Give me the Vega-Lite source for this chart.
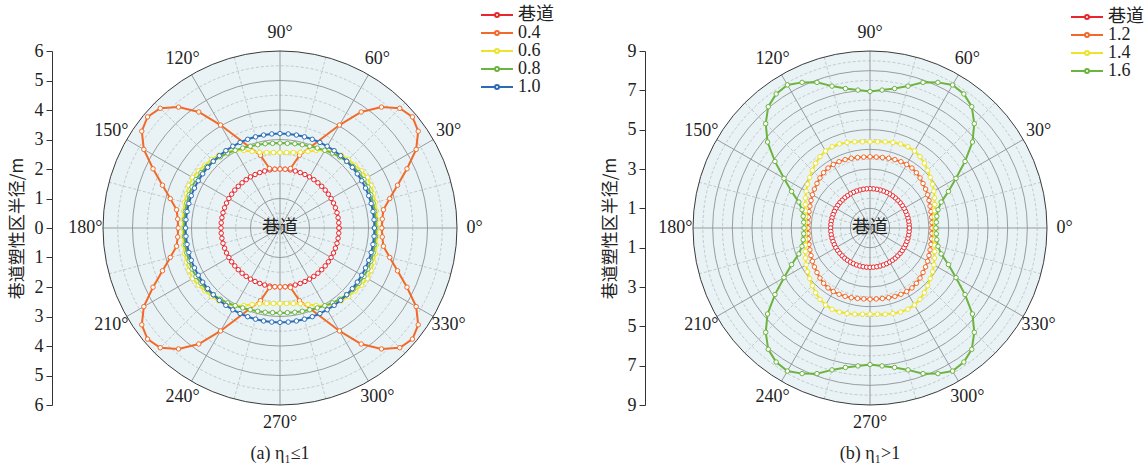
{
"$schema":"https://vega.github.io/schema/vega-lite/v6.json",
"padding":{"left":8,"top":6,"right":0,"bottom":0},
"config":{"font":"Liberation Serif, Noto Sans CJK SC","view":{"stroke":null},"title":{"fontWeight":"normal","fontSize":18},"axis":{"labelOverlap":false,"labelFontSize":18,"labelFont":"Liberation Serif","labelColor":"#222","grid":false,"tickCount":20}},
"spacing":47,
"resolve":{"scale":{"color":"independent","x":"independent","y":"independent","size":"independent"},"legend":{"color":"independent"}},
"datasets":{
"a":[
{"s":"巷道","t":0,"r":2},{"s":"巷道","t":5,"r":2},{"s":"巷道","t":10,"r":2},{"s":"巷道","t":15,"r":2},{"s":"巷道","t":20,"r":2},{"s":"巷道","t":25,"r":2},{"s":"巷道","t":30,"r":2},{"s":"巷道","t":35,"r":2},{"s":"巷道","t":40,"r":2},{"s":"巷道","t":45,"r":2},{"s":"巷道","t":50,"r":2},{"s":"巷道","t":55,"r":2},{"s":"巷道","t":60,"r":2},{"s":"巷道","t":65,"r":2},{"s":"巷道","t":70,"r":2},{"s":"巷道","t":75,"r":2},{"s":"巷道","t":80,"r":2},{"s":"巷道","t":85,"r":2},{"s":"巷道","t":90,"r":2},{"s":"巷道","t":95,"r":2},{"s":"巷道","t":100,"r":2},{"s":"巷道","t":105,"r":2},{"s":"巷道","t":110,"r":2},{"s":"巷道","t":115,"r":2},{"s":"巷道","t":120,"r":2},{"s":"巷道","t":125,"r":2},{"s":"巷道","t":130,"r":2},{"s":"巷道","t":135,"r":2},{"s":"巷道","t":140,"r":2},{"s":"巷道","t":145,"r":2},{"s":"巷道","t":150,"r":2},{"s":"巷道","t":155,"r":2},{"s":"巷道","t":160,"r":2},{"s":"巷道","t":165,"r":2},{"s":"巷道","t":170,"r":2},{"s":"巷道","t":175,"r":2},{"s":"巷道","t":180,"r":2},{"s":"巷道","t":185,"r":2},{"s":"巷道","t":190,"r":2},{"s":"巷道","t":195,"r":2},{"s":"巷道","t":200,"r":2},{"s":"巷道","t":205,"r":2},{"s":"巷道","t":210,"r":2},{"s":"巷道","t":215,"r":2},{"s":"巷道","t":220,"r":2},{"s":"巷道","t":225,"r":2},{"s":"巷道","t":230,"r":2},{"s":"巷道","t":235,"r":2},{"s":"巷道","t":240,"r":2},{"s":"巷道","t":245,"r":2},{"s":"巷道","t":250,"r":2},{"s":"巷道","t":255,"r":2},{"s":"巷道","t":260,"r":2},{"s":"巷道","t":265,"r":2},{"s":"巷道","t":270,"r":2},{"s":"巷道","t":275,"r":2},{"s":"巷道","t":280,"r":2},{"s":"巷道","t":285,"r":2},{"s":"巷道","t":290,"r":2},{"s":"巷道","t":295,"r":2},{"s":"巷道","t":300,"r":2},{"s":"巷道","t":305,"r":2},{"s":"巷道","t":310,"r":2},{"s":"巷道","t":315,"r":2},{"s":"巷道","t":320,"r":2},{"s":"巷道","t":325,"r":2},{"s":"巷道","t":330,"r":2},{"s":"巷道","t":335,"r":2},{"s":"巷道","t":340,"r":2},{"s":"巷道","t":345,"r":2},{"s":"巷道","t":350,"r":2},{"s":"巷道","t":355,"r":2},{"s":"巷道","t":360,"r":2},
{"s":"0.4","t":0,"r":3.45},{"s":"0.4","t":5,"r":3.48},{"s":"0.4","t":10,"r":3.56},{"s":"0.4","t":15,"r":3.85},{"s":"0.4","t":20,"r":4.24},{"s":"0.4","t":25,"r":4.75},{"s":"0.4","t":30,"r":5.33},{"s":"0.4","t":35,"r":5.72},{"s":"0.4","t":40,"r":5.86},{"s":"0.4","t":45,"r":5.74},{"s":"0.4","t":50,"r":5.35},{"s":"0.4","t":55,"r":4.8},{"s":"0.4","t":60,"r":4.03},{"s":"0.4","t":75,"r":2.55},{"s":"0.4","t":80,"r":2.05},{"s":"0.4","t":85,"r":2},{"s":"0.4","t":90,"r":2},
{"s":"0.4","t":95,"r":2},{"s":"0.4","t":100,"r":2.05},{"s":"0.4","t":105,"r":2.55},{"s":"0.4","t":120,"r":4.03},{"s":"0.4","t":125,"r":4.8},{"s":"0.4","t":130,"r":5.35},{"s":"0.4","t":135,"r":5.74},{"s":"0.4","t":140,"r":5.86},{"s":"0.4","t":145,"r":5.72},{"s":"0.4","t":150,"r":5.33},{"s":"0.4","t":155,"r":4.75},{"s":"0.4","t":160,"r":4.24},{"s":"0.4","t":165,"r":3.85},{"s":"0.4","t":170,"r":3.56},{"s":"0.4","t":175,"r":3.48},{"s":"0.4","t":180,"r":3.45},
{"s":"0.4","t":185,"r":3.48},{"s":"0.4","t":190,"r":3.56},{"s":"0.4","t":195,"r":3.85},{"s":"0.4","t":200,"r":4.24},{"s":"0.4","t":205,"r":4.75},{"s":"0.4","t":210,"r":5.33},{"s":"0.4","t":215,"r":5.72},{"s":"0.4","t":220,"r":5.86},{"s":"0.4","t":225,"r":5.74},{"s":"0.4","t":230,"r":5.35},{"s":"0.4","t":235,"r":4.8},{"s":"0.4","t":240,"r":4.03},{"s":"0.4","t":255,"r":2.55},{"s":"0.4","t":260,"r":2.05},{"s":"0.4","t":265,"r":2},{"s":"0.4","t":270,"r":2},
{"s":"0.4","t":275,"r":2},{"s":"0.4","t":280,"r":2.05},{"s":"0.4","t":285,"r":2.55},{"s":"0.4","t":300,"r":4.03},{"s":"0.4","t":305,"r":4.8},{"s":"0.4","t":310,"r":5.35},{"s":"0.4","t":315,"r":5.74},{"s":"0.4","t":320,"r":5.86},{"s":"0.4","t":325,"r":5.72},{"s":"0.4","t":330,"r":5.33},{"s":"0.4","t":335,"r":4.75},{"s":"0.4","t":340,"r":4.24},{"s":"0.4","t":345,"r":3.85},{"s":"0.4","t":350,"r":3.56},{"s":"0.4","t":355,"r":3.48},{"s":"0.4","t":360,"r":3.45},
{"s":"0.6","t":0,"r":3.3},{"s":"0.6","t":5,"r":3.3},{"s":"0.6","t":10,"r":3.32},{"s":"0.6","t":15,"r":3.35},{"s":"0.6","t":20,"r":3.38},{"s":"0.6","t":25,"r":3.41},{"s":"0.6","t":30,"r":3.42},{"s":"0.6","t":35,"r":3.38},{"s":"0.6","t":40,"r":3.32},{"s":"0.6","t":45,"r":3.28},{"s":"0.6","t":50,"r":3.23},{"s":"0.6","t":55,"r":3.16},{"s":"0.6","t":60,"r":3.05},{"s":"0.6","t":65,"r":2.9},{"s":"0.6","t":70,"r":2.76},{"s":"0.6","t":75,"r":2.66},{"s":"0.6","t":80,"r":2.6},{"s":"0.6","t":85,"r":2.57},{"s":"0.6","t":90,"r":2.56},
{"s":"0.6","t":95,"r":2.57},{"s":"0.6","t":100,"r":2.6},{"s":"0.6","t":105,"r":2.66},{"s":"0.6","t":110,"r":2.76},{"s":"0.6","t":115,"r":2.9},{"s":"0.6","t":120,"r":3.05},{"s":"0.6","t":125,"r":3.16},{"s":"0.6","t":130,"r":3.23},{"s":"0.6","t":135,"r":3.28},{"s":"0.6","t":140,"r":3.32},{"s":"0.6","t":145,"r":3.38},{"s":"0.6","t":150,"r":3.42},{"s":"0.6","t":155,"r":3.41},{"s":"0.6","t":160,"r":3.38},{"s":"0.6","t":165,"r":3.35},{"s":"0.6","t":170,"r":3.32},{"s":"0.6","t":175,"r":3.3},{"s":"0.6","t":180,"r":3.3},
{"s":"0.6","t":185,"r":3.3},{"s":"0.6","t":190,"r":3.32},{"s":"0.6","t":195,"r":3.35},{"s":"0.6","t":200,"r":3.38},{"s":"0.6","t":205,"r":3.41},{"s":"0.6","t":210,"r":3.42},{"s":"0.6","t":215,"r":3.38},{"s":"0.6","t":220,"r":3.32},{"s":"0.6","t":225,"r":3.28},{"s":"0.6","t":230,"r":3.23},{"s":"0.6","t":235,"r":3.16},{"s":"0.6","t":240,"r":3.05},{"s":"0.6","t":245,"r":2.9},{"s":"0.6","t":250,"r":2.76},{"s":"0.6","t":255,"r":2.66},{"s":"0.6","t":260,"r":2.6},{"s":"0.6","t":265,"r":2.57},{"s":"0.6","t":270,"r":2.56},
{"s":"0.6","t":275,"r":2.57},{"s":"0.6","t":280,"r":2.6},{"s":"0.6","t":285,"r":2.66},{"s":"0.6","t":290,"r":2.76},{"s":"0.6","t":295,"r":2.9},{"s":"0.6","t":300,"r":3.05},{"s":"0.6","t":305,"r":3.16},{"s":"0.6","t":310,"r":3.23},{"s":"0.6","t":315,"r":3.28},{"s":"0.6","t":320,"r":3.32},{"s":"0.6","t":325,"r":3.38},{"s":"0.6","t":330,"r":3.42},{"s":"0.6","t":335,"r":3.41},{"s":"0.6","t":340,"r":3.38},{"s":"0.6","t":345,"r":3.35},{"s":"0.6","t":350,"r":3.32},{"s":"0.6","t":355,"r":3.3},{"s":"0.6","t":360,"r":3.3},
{"s":"0.8","t":0,"r":3.25},{"s":"0.8","t":5,"r":3.25},{"s":"0.8","t":10,"r":3.26},{"s":"0.8","t":15,"r":3.27},{"s":"0.8","t":20,"r":3.28},{"s":"0.8","t":25,"r":3.29},{"s":"0.8","t":30,"r":3.29},{"s":"0.8","t":35,"r":3.27},{"s":"0.8","t":40,"r":3.24},{"s":"0.8","t":45,"r":3.2},{"s":"0.8","t":50,"r":3.15},{"s":"0.8","t":55,"r":3.1},{"s":"0.8","t":60,"r":3.04},{"s":"0.8","t":65,"r":2.99},{"s":"0.8","t":70,"r":2.95},{"s":"0.8","t":75,"r":2.92},{"s":"0.8","t":80,"r":2.9},{"s":"0.8","t":85,"r":2.88},{"s":"0.8","t":90,"r":2.88},
{"s":"0.8","t":95,"r":2.88},{"s":"0.8","t":100,"r":2.9},{"s":"0.8","t":105,"r":2.92},{"s":"0.8","t":110,"r":2.95},{"s":"0.8","t":115,"r":2.99},{"s":"0.8","t":120,"r":3.04},{"s":"0.8","t":125,"r":3.1},{"s":"0.8","t":130,"r":3.15},{"s":"0.8","t":135,"r":3.2},{"s":"0.8","t":140,"r":3.24},{"s":"0.8","t":145,"r":3.27},{"s":"0.8","t":150,"r":3.29},{"s":"0.8","t":155,"r":3.29},{"s":"0.8","t":160,"r":3.28},{"s":"0.8","t":165,"r":3.27},{"s":"0.8","t":170,"r":3.26},{"s":"0.8","t":175,"r":3.25},{"s":"0.8","t":180,"r":3.25},
{"s":"0.8","t":185,"r":3.25},{"s":"0.8","t":190,"r":3.26},{"s":"0.8","t":195,"r":3.27},{"s":"0.8","t":200,"r":3.28},{"s":"0.8","t":205,"r":3.29},{"s":"0.8","t":210,"r":3.29},{"s":"0.8","t":215,"r":3.27},{"s":"0.8","t":220,"r":3.24},{"s":"0.8","t":225,"r":3.2},{"s":"0.8","t":230,"r":3.15},{"s":"0.8","t":235,"r":3.1},{"s":"0.8","t":240,"r":3.04},{"s":"0.8","t":245,"r":2.99},{"s":"0.8","t":250,"r":2.95},{"s":"0.8","t":255,"r":2.92},{"s":"0.8","t":260,"r":2.9},{"s":"0.8","t":265,"r":2.88},{"s":"0.8","t":270,"r":2.88},
{"s":"0.8","t":275,"r":2.88},{"s":"0.8","t":280,"r":2.9},{"s":"0.8","t":285,"r":2.92},{"s":"0.8","t":290,"r":2.95},{"s":"0.8","t":295,"r":2.99},{"s":"0.8","t":300,"r":3.04},{"s":"0.8","t":305,"r":3.1},{"s":"0.8","t":310,"r":3.15},{"s":"0.8","t":315,"r":3.2},{"s":"0.8","t":320,"r":3.24},{"s":"0.8","t":325,"r":3.27},{"s":"0.8","t":330,"r":3.29},{"s":"0.8","t":335,"r":3.29},{"s":"0.8","t":340,"r":3.28},{"s":"0.8","t":345,"r":3.27},{"s":"0.8","t":350,"r":3.26},{"s":"0.8","t":355,"r":3.25},{"s":"0.8","t":360,"r":3.25},
{"s":"1.0","t":0,"r":3.2},{"s":"1.0","t":5,"r":3.2},{"s":"1.0","t":10,"r":3.2},{"s":"1.0","t":15,"r":3.2},{"s":"1.0","t":20,"r":3.2},{"s":"1.0","t":25,"r":3.2},{"s":"1.0","t":30,"r":3.2},{"s":"1.0","t":35,"r":3.2},{"s":"1.0","t":40,"r":3.2},{"s":"1.0","t":45,"r":3.2},{"s":"1.0","t":50,"r":3.2},{"s":"1.0","t":55,"r":3.2},{"s":"1.0","t":60,"r":3.2},{"s":"1.0","t":65,"r":3.2},{"s":"1.0","t":70,"r":3.2},{"s":"1.0","t":75,"r":3.2},{"s":"1.0","t":80,"r":3.2},{"s":"1.0","t":85,"r":3.2},{"s":"1.0","t":90,"r":3.2},{"s":"1.0","t":95,"r":3.2},{"s":"1.0","t":100,"r":3.2},{"s":"1.0","t":105,"r":3.2},{"s":"1.0","t":110,"r":3.2},{"s":"1.0","t":115,"r":3.2},{"s":"1.0","t":120,"r":3.2},{"s":"1.0","t":125,"r":3.2},{"s":"1.0","t":130,"r":3.2},{"s":"1.0","t":135,"r":3.2},{"s":"1.0","t":140,"r":3.2},{"s":"1.0","t":145,"r":3.2},{"s":"1.0","t":150,"r":3.2},{"s":"1.0","t":155,"r":3.2},{"s":"1.0","t":160,"r":3.2},{"s":"1.0","t":165,"r":3.2},{"s":"1.0","t":170,"r":3.2},{"s":"1.0","t":175,"r":3.2},{"s":"1.0","t":180,"r":3.2},{"s":"1.0","t":185,"r":3.2},{"s":"1.0","t":190,"r":3.2},{"s":"1.0","t":195,"r":3.2},{"s":"1.0","t":200,"r":3.2},{"s":"1.0","t":205,"r":3.2},{"s":"1.0","t":210,"r":3.2},{"s":"1.0","t":215,"r":3.2},{"s":"1.0","t":220,"r":3.2},{"s":"1.0","t":225,"r":3.2},{"s":"1.0","t":230,"r":3.2},{"s":"1.0","t":235,"r":3.2},{"s":"1.0","t":240,"r":3.2},{"s":"1.0","t":245,"r":3.2},{"s":"1.0","t":250,"r":3.2},{"s":"1.0","t":255,"r":3.2},{"s":"1.0","t":260,"r":3.2},{"s":"1.0","t":265,"r":3.2},{"s":"1.0","t":270,"r":3.2},{"s":"1.0","t":275,"r":3.2},{"s":"1.0","t":280,"r":3.2},{"s":"1.0","t":285,"r":3.2},{"s":"1.0","t":290,"r":3.2},{"s":"1.0","t":295,"r":3.2},{"s":"1.0","t":300,"r":3.2},{"s":"1.0","t":305,"r":3.2},{"s":"1.0","t":310,"r":3.2},{"s":"1.0","t":315,"r":3.2},{"s":"1.0","t":320,"r":3.2},{"s":"1.0","t":325,"r":3.2},{"s":"1.0","t":330,"r":3.2},{"s":"1.0","t":335,"r":3.2},{"s":"1.0","t":340,"r":3.2},{"s":"1.0","t":345,"r":3.2},{"s":"1.0","t":350,"r":3.2},{"s":"1.0","t":355,"r":3.2},{"s":"1.0","t":360,"r":3.2}
],
"b":[
{"s":"巷道","t":0,"r":2},{"s":"巷道","t":5,"r":2},{"s":"巷道","t":10,"r":2},{"s":"巷道","t":15,"r":2},{"s":"巷道","t":20,"r":2},{"s":"巷道","t":25,"r":2},{"s":"巷道","t":30,"r":2},{"s":"巷道","t":35,"r":2},{"s":"巷道","t":40,"r":2},{"s":"巷道","t":45,"r":2},{"s":"巷道","t":50,"r":2},{"s":"巷道","t":55,"r":2},{"s":"巷道","t":60,"r":2},{"s":"巷道","t":65,"r":2},{"s":"巷道","t":70,"r":2},{"s":"巷道","t":75,"r":2},{"s":"巷道","t":80,"r":2},{"s":"巷道","t":85,"r":2},{"s":"巷道","t":90,"r":2},{"s":"巷道","t":95,"r":2},{"s":"巷道","t":100,"r":2},{"s":"巷道","t":105,"r":2},{"s":"巷道","t":110,"r":2},{"s":"巷道","t":115,"r":2},{"s":"巷道","t":120,"r":2},{"s":"巷道","t":125,"r":2},{"s":"巷道","t":130,"r":2},{"s":"巷道","t":135,"r":2},{"s":"巷道","t":140,"r":2},{"s":"巷道","t":145,"r":2},{"s":"巷道","t":150,"r":2},{"s":"巷道","t":155,"r":2},{"s":"巷道","t":160,"r":2},{"s":"巷道","t":165,"r":2},{"s":"巷道","t":170,"r":2},{"s":"巷道","t":175,"r":2},{"s":"巷道","t":180,"r":2},{"s":"巷道","t":185,"r":2},{"s":"巷道","t":190,"r":2},{"s":"巷道","t":195,"r":2},{"s":"巷道","t":200,"r":2},{"s":"巷道","t":205,"r":2},{"s":"巷道","t":210,"r":2},{"s":"巷道","t":215,"r":2},{"s":"巷道","t":220,"r":2},{"s":"巷道","t":225,"r":2},{"s":"巷道","t":230,"r":2},{"s":"巷道","t":235,"r":2},{"s":"巷道","t":240,"r":2},{"s":"巷道","t":245,"r":2},{"s":"巷道","t":250,"r":2},{"s":"巷道","t":255,"r":2},{"s":"巷道","t":260,"r":2},{"s":"巷道","t":265,"r":2},{"s":"巷道","t":270,"r":2},{"s":"巷道","t":275,"r":2},{"s":"巷道","t":280,"r":2},{"s":"巷道","t":285,"r":2},{"s":"巷道","t":290,"r":2},{"s":"巷道","t":295,"r":2},{"s":"巷道","t":300,"r":2},{"s":"巷道","t":305,"r":2},{"s":"巷道","t":310,"r":2},{"s":"巷道","t":315,"r":2},{"s":"巷道","t":320,"r":2},{"s":"巷道","t":325,"r":2},{"s":"巷道","t":330,"r":2},{"s":"巷道","t":335,"r":2},{"s":"巷道","t":340,"r":2},{"s":"巷道","t":345,"r":2},{"s":"巷道","t":350,"r":2},{"s":"巷道","t":355,"r":2},{"s":"巷道","t":360,"r":2},
{"s":"1.2","t":0,"r":3.15},{"s":"1.2","t":5,"r":3.16},{"s":"1.2","t":10,"r":3.18},{"s":"1.2","t":15,"r":3.21},{"s":"1.2","t":20,"r":3.25},{"s":"1.2","t":25,"r":3.31},{"s":"1.2","t":30,"r":3.38},{"s":"1.2","t":35,"r":3.45},{"s":"1.2","t":40,"r":3.52},{"s":"1.2","t":45,"r":3.6},{"s":"1.2","t":50,"r":3.67},{"s":"1.2","t":55,"r":3.72},{"s":"1.2","t":60,"r":3.73},{"s":"1.2","t":65,"r":3.72},{"s":"1.2","t":70,"r":3.7},{"s":"1.2","t":75,"r":3.67},{"s":"1.2","t":80,"r":3.64},{"s":"1.2","t":85,"r":3.62},{"s":"1.2","t":90,"r":3.62},
{"s":"1.2","t":95,"r":3.62},{"s":"1.2","t":100,"r":3.64},{"s":"1.2","t":105,"r":3.67},{"s":"1.2","t":110,"r":3.7},{"s":"1.2","t":115,"r":3.72},{"s":"1.2","t":120,"r":3.73},{"s":"1.2","t":125,"r":3.72},{"s":"1.2","t":130,"r":3.67},{"s":"1.2","t":135,"r":3.6},{"s":"1.2","t":140,"r":3.52},{"s":"1.2","t":145,"r":3.45},{"s":"1.2","t":150,"r":3.38},{"s":"1.2","t":155,"r":3.31},{"s":"1.2","t":160,"r":3.25},{"s":"1.2","t":165,"r":3.21},{"s":"1.2","t":170,"r":3.18},{"s":"1.2","t":175,"r":3.16},{"s":"1.2","t":180,"r":3.15},
{"s":"1.2","t":185,"r":3.16},{"s":"1.2","t":190,"r":3.18},{"s":"1.2","t":195,"r":3.21},{"s":"1.2","t":200,"r":3.25},{"s":"1.2","t":205,"r":3.31},{"s":"1.2","t":210,"r":3.38},{"s":"1.2","t":215,"r":3.45},{"s":"1.2","t":220,"r":3.52},{"s":"1.2","t":225,"r":3.6},{"s":"1.2","t":230,"r":3.67},{"s":"1.2","t":235,"r":3.72},{"s":"1.2","t":240,"r":3.73},{"s":"1.2","t":245,"r":3.72},{"s":"1.2","t":250,"r":3.7},{"s":"1.2","t":255,"r":3.67},{"s":"1.2","t":260,"r":3.64},{"s":"1.2","t":265,"r":3.62},{"s":"1.2","t":270,"r":3.62},
{"s":"1.2","t":275,"r":3.62},{"s":"1.2","t":280,"r":3.64},{"s":"1.2","t":285,"r":3.67},{"s":"1.2","t":290,"r":3.7},{"s":"1.2","t":295,"r":3.72},{"s":"1.2","t":300,"r":3.73},{"s":"1.2","t":305,"r":3.72},{"s":"1.2","t":310,"r":3.67},{"s":"1.2","t":315,"r":3.6},{"s":"1.2","t":320,"r":3.52},{"s":"1.2","t":325,"r":3.45},{"s":"1.2","t":330,"r":3.38},{"s":"1.2","t":335,"r":3.31},{"s":"1.2","t":340,"r":3.25},{"s":"1.2","t":345,"r":3.21},{"s":"1.2","t":350,"r":3.18},{"s":"1.2","t":355,"r":3.16},{"s":"1.2","t":360,"r":3.15},
{"s":"1.4","t":0,"r":3.28},{"s":"1.4","t":5,"r":3.29},{"s":"1.4","t":10,"r":3.33},{"s":"1.4","t":15,"r":3.4},{"s":"1.4","t":20,"r":3.5},{"s":"1.4","t":25,"r":3.62},{"s":"1.4","t":30,"r":3.75},{"s":"1.4","t":35,"r":3.88},{"s":"1.4","t":40,"r":4.0},{"s":"1.4","t":45,"r":4.15},{"s":"1.4","t":50,"r":4.3},{"s":"1.4","t":55,"r":4.43},{"s":"1.4","t":60,"r":4.52},{"s":"1.4","t":65,"r":4.56},{"s":"1.4","t":70,"r":4.55},{"s":"1.4","t":75,"r":4.5},{"s":"1.4","t":80,"r":4.45},{"s":"1.4","t":85,"r":4.4},{"s":"1.4","t":90,"r":4.38},
{"s":"1.4","t":95,"r":4.4},{"s":"1.4","t":100,"r":4.45},{"s":"1.4","t":105,"r":4.5},{"s":"1.4","t":110,"r":4.55},{"s":"1.4","t":115,"r":4.56},{"s":"1.4","t":120,"r":4.52},{"s":"1.4","t":125,"r":4.43},{"s":"1.4","t":130,"r":4.3},{"s":"1.4","t":135,"r":4.15},{"s":"1.4","t":140,"r":4.0},{"s":"1.4","t":145,"r":3.88},{"s":"1.4","t":150,"r":3.75},{"s":"1.4","t":155,"r":3.62},{"s":"1.4","t":160,"r":3.5},{"s":"1.4","t":165,"r":3.4},{"s":"1.4","t":170,"r":3.33},{"s":"1.4","t":175,"r":3.29},{"s":"1.4","t":180,"r":3.28},
{"s":"1.4","t":185,"r":3.29},{"s":"1.4","t":190,"r":3.33},{"s":"1.4","t":195,"r":3.4},{"s":"1.4","t":200,"r":3.5},{"s":"1.4","t":205,"r":3.62},{"s":"1.4","t":210,"r":3.75},{"s":"1.4","t":215,"r":3.88},{"s":"1.4","t":220,"r":4.0},{"s":"1.4","t":225,"r":4.15},{"s":"1.4","t":230,"r":4.3},{"s":"1.4","t":235,"r":4.43},{"s":"1.4","t":240,"r":4.52},{"s":"1.4","t":245,"r":4.56},{"s":"1.4","t":250,"r":4.55},{"s":"1.4","t":255,"r":4.5},{"s":"1.4","t":260,"r":4.45},{"s":"1.4","t":265,"r":4.4},{"s":"1.4","t":270,"r":4.38},
{"s":"1.4","t":275,"r":4.4},{"s":"1.4","t":280,"r":4.45},{"s":"1.4","t":285,"r":4.5},{"s":"1.4","t":290,"r":4.55},{"s":"1.4","t":295,"r":4.56},{"s":"1.4","t":300,"r":4.52},{"s":"1.4","t":305,"r":4.43},{"s":"1.4","t":310,"r":4.3},{"s":"1.4","t":315,"r":4.15},{"s":"1.4","t":320,"r":4.0},{"s":"1.4","t":325,"r":3.88},{"s":"1.4","t":330,"r":3.75},{"s":"1.4","t":335,"r":3.62},{"s":"1.4","t":340,"r":3.5},{"s":"1.4","t":345,"r":3.4},{"s":"1.4","t":350,"r":3.33},{"s":"1.4","t":355,"r":3.29},{"s":"1.4","t":360,"r":3.28},
{"s":"1.6","t":0,"r":3.35},{"s":"1.6","t":5,"r":3.38},{"s":"1.6","t":10,"r":3.45},{"s":"1.6","t":15,"r":3.58},{"s":"1.6","t":20,"r":3.85},{"s":"1.6","t":25,"r":4.4},{"s":"1.6","t":30,"r":5.05},{"s":"1.6","t":35,"r":5.9},{"s":"1.6","t":40,"r":6.8},{"s":"1.6","t":45,"r":7.5},{"s":"1.6","t":50,"r":8.05},{"s":"1.6","t":55,"r":8.32},{"s":"1.6","t":60,"r":8.4},{"s":"1.6","t":65,"r":8.17},{"s":"1.6","t":70,"r":7.88},{"s":"1.6","t":75,"r":7.47},{"s":"1.6","t":80,"r":7.2},{"s":"1.6","t":85,"r":7.04},{"s":"1.6","t":90,"r":6.94},
{"s":"1.6","t":95,"r":7.04},{"s":"1.6","t":100,"r":7.2},{"s":"1.6","t":105,"r":7.47},{"s":"1.6","t":110,"r":7.88},{"s":"1.6","t":115,"r":8.17},{"s":"1.6","t":120,"r":8.4},{"s":"1.6","t":125,"r":8.32},{"s":"1.6","t":130,"r":8.05},{"s":"1.6","t":135,"r":7.5},{"s":"1.6","t":140,"r":6.8},{"s":"1.6","t":145,"r":5.9},{"s":"1.6","t":150,"r":5.05},{"s":"1.6","t":155,"r":4.4},{"s":"1.6","t":160,"r":3.85},{"s":"1.6","t":165,"r":3.58},{"s":"1.6","t":170,"r":3.45},{"s":"1.6","t":175,"r":3.38},{"s":"1.6","t":180,"r":3.35},
{"s":"1.6","t":185,"r":3.38},{"s":"1.6","t":190,"r":3.45},{"s":"1.6","t":195,"r":3.58},{"s":"1.6","t":200,"r":3.85},{"s":"1.6","t":205,"r":4.4},{"s":"1.6","t":210,"r":5.05},{"s":"1.6","t":215,"r":5.9},{"s":"1.6","t":220,"r":6.8},{"s":"1.6","t":225,"r":7.5},{"s":"1.6","t":230,"r":8.05},{"s":"1.6","t":235,"r":8.32},{"s":"1.6","t":240,"r":8.4},{"s":"1.6","t":245,"r":8.17},{"s":"1.6","t":250,"r":7.88},{"s":"1.6","t":255,"r":7.47},{"s":"1.6","t":260,"r":7.2},{"s":"1.6","t":265,"r":7.04},{"s":"1.6","t":270,"r":6.94},
{"s":"1.6","t":275,"r":7.04},{"s":"1.6","t":280,"r":7.2},{"s":"1.6","t":285,"r":7.47},{"s":"1.6","t":290,"r":7.88},{"s":"1.6","t":295,"r":8.17},{"s":"1.6","t":300,"r":8.4},{"s":"1.6","t":305,"r":8.32},{"s":"1.6","t":310,"r":8.05},{"s":"1.6","t":315,"r":7.5},{"s":"1.6","t":320,"r":6.8},{"s":"1.6","t":325,"r":5.9},{"s":"1.6","t":330,"r":5.05},{"s":"1.6","t":335,"r":4.4},{"s":"1.6","t":340,"r":3.85},{"s":"1.6","t":345,"r":3.58},{"s":"1.6","t":350,"r":3.45},{"s":"1.6","t":355,"r":3.38},{"s":"1.6","t":360,"r":3.35}
],
"spokeMain":[{"a":0},{"a":30},{"a":60},{"a":90},{"a":120},{"a":150},{"a":180},{"a":210},{"a":240},{"a":270},{"a":300},{"a":330}],
"spokeMinor":[{"a":15},{"a":45},{"a":75},{"a":105},{"a":135},{"a":165},{"a":195},{"a":225},{"a":255},{"a":285},{"a":315},{"a":345}],
"angLab":[{"a":0,"lab":"0°"},{"a":30,"lab":"30°"},{"a":60,"lab":"60°"},{"a":90,"lab":"90°"},{"a":120,"lab":"120°"},{"a":150,"lab":"150°"},{"a":180,"lab":"180°"},{"a":210,"lab":"210°"},{"a":240,"lab":"240°"},{"a":270,"lab":"270°"},{"a":300,"lab":"300°"},{"a":330,"lab":"330°"}],
"center":[{"lab":"巷道","c":0}],
"ringsA":[{"c":0,"r":6,"k":"bg"},{"c":0,"r":0.5,"k":"minor"},{"c":0,"r":1.5,"k":"minor"},{"c":0,"r":2.5,"k":"minor"},{"c":0,"r":3.5,"k":"minor"},{"c":0,"r":4.5,"k":"minor"},{"c":0,"r":5.5,"k":"minor"},{"c":0,"r":1,"k":"major"},{"c":0,"r":2,"k":"major"},{"c":0,"r":3,"k":"major"},{"c":0,"r":4,"k":"major"},{"c":0,"r":5,"k":"major"},{"c":0,"r":6,"k":"edge"}],
"ringsB":[{"c":0,"r":9,"k":"bg"},{"c":0,"r":0.5,"k":"minor"},{"c":0,"r":1.5,"k":"minor"},{"c":0,"r":2.5,"k":"minor"},{"c":0,"r":3.5,"k":"minor"},{"c":0,"r":4.5,"k":"minor"},{"c":0,"r":5.5,"k":"minor"},{"c":0,"r":6.5,"k":"minor"},{"c":0,"r":7.5,"k":"minor"},{"c":0,"r":8.5,"k":"minor"},{"c":0,"r":1,"k":"major"},{"c":0,"r":2,"k":"major"},{"c":0,"r":3,"k":"major"},{"c":0,"r":4,"k":"major"},{"c":0,"r":5,"k":"major"},{"c":0,"r":6,"k":"major"},{"c":0,"r":7,"k":"major"},{"c":0,"r":8,"k":"major"},{"c":0,"r":9,"k":"edge"}]
},
"hconcat":[
{
"width":354,"height":354,
"title":{"text":"(a) η₁≤1","orient":"bottom","frame":"group","anchor":"middle","fontSize":18,"font":"Liberation Serif","color":"#222","offset":13},
"layer":[
{"data":{"name":"ringsA"},"transform":[{"filter":"datum.k=='bg'"}],"mark":{"type":"point","shape":"circle","filled":true,"fill":"#e9f3f5","opacity":1,"strokeWidth":0},
 "encoding":{"x":{"field":"c","type":"quantitative","scale":{"domain":[-6,6],"nice":false},"axis":null},"y":{"field":"c","type":"quantitative","scale":{"domain":[-6,6],"nice":false}},
 "size":{"field":"r","type":"quantitative","scale":{"type":"pow","exponent":2,"domain":[0,6],"range":[0,125316]},"legend":null}}},
{"data":{"name":"ringsA"},"transform":[{"filter":"datum.k=='minor'"}],"mark":{"type":"point","shape":"circle","filled":false,"fill":null,"stroke":"#b8bcbe","opacity":1,"strokeWidth":0.8,"strokeDash":[3,2]},
 "encoding":{"x":{"field":"c","type":"quantitative","scale":{"domain":[-6,6],"nice":false},"axis":null},"y":{"field":"c","type":"quantitative","scale":{"domain":[-6,6],"nice":false}},
 "size":{"field":"r","type":"quantitative","scale":{"type":"pow","exponent":2,"domain":[0,6],"range":[0,125316]},"legend":null}}},
{"data":{"name":"ringsA"},"transform":[{"filter":"datum.k=='major'"}],"mark":{"type":"point","shape":"circle","filled":false,"fill":null,"stroke":"#8e9294","opacity":1,"strokeWidth":0.9},
 "encoding":{"x":{"field":"c","type":"quantitative","scale":{"domain":[-6,6],"nice":false},"axis":null},"y":{"field":"c","type":"quantitative","scale":{"domain":[-6,6],"nice":false}},
 "size":{"field":"r","type":"quantitative","scale":{"type":"pow","exponent":2,"domain":[0,6],"range":[0,125316]},"legend":null}}},
{"data":{"name":"spokeMinor"},"transform":[{"calculate":"6*cos(datum.a*PI/180)","as":"ex"},{"calculate":"6*sin(datum.a*PI/180)","as":"ey"}],
 "mark":{"type":"rule","stroke":"#b8bcbe","strokeWidth":0.8,"strokeDash":[3,2]},
 "encoding":{"x":{"field":"ex","type":"quantitative","scale":{"domain":[-6,6],"nice":false},"axis":null},"y":{"field":"ey","type":"quantitative","scale":{"domain":[-6,6],"nice":false}},"x2":{"datum":0},"y2":{"datum":0}}},
{"data":{"name":"spokeMain"},"transform":[{"calculate":"6*cos(datum.a*PI/180)","as":"ex"},{"calculate":"6*sin(datum.a*PI/180)","as":"ey"}],
 "mark":{"type":"rule","stroke":"#8e9294","strokeWidth":0.9},
 "encoding":{"x":{"field":"ex","type":"quantitative","scale":{"domain":[-6,6],"nice":false},"axis":null},"y":{"field":"ey","type":"quantitative","scale":{"domain":[-6,6],"nice":false}},"x2":{"datum":0},"y2":{"datum":0}}},
{"data":{"name":"ringsA"},"transform":[{"filter":"datum.k=='edge'"}],"mark":{"type":"point","shape":"circle","filled":false,"fill":null,"stroke":"#3a3a3a","opacity":1,"strokeWidth":1},
 "encoding":{"x":{"field":"c","type":"quantitative","scale":{"domain":[-6,6],"nice":false},"axis":null},"y":{"field":"c","type":"quantitative","scale":{"domain":[-6,6],"nice":false}},
 "size":{"field":"r","type":"quantitative","scale":{"type":"pow","exponent":2,"domain":[0,6],"range":[0,125316]},"legend":null}}},
{"data":{"name":"angLab"},"transform":[{"calculate":"6.6*cos(datum.a*PI/180)","as":"tx"},{"calculate":"6.6*sin(datum.a*PI/180)","as":"ty"}],
 "mark":{"type":"text","fontSize":18,"align":"center","baseline":"middle","color":"#222","font":"Liberation Serif"},
 "encoding":{"x":{"field":"tx","type":"quantitative","scale":{"domain":[-6,6],"nice":false},"axis":null},"y":{"field":"ty","type":"quantitative","scale":{"domain":[-6,6],"nice":false}},"text":{"field":"lab"}}},
{"data":{"name":"center"},"mark":{"type":"text","fontSize":18,"align":"center","baseline":"middle","color":"#222","font":"Noto Sans CJK SC"},
 "encoding":{"x":{"field":"c","type":"quantitative","scale":{"domain":[-6,6],"nice":false},"axis":null},"y":{"field":"c","type":"quantitative","scale":{"domain":[-6,6],"nice":false}},"text":{"field":"lab"}}},
{"data":{"name":"a"},"transform":[{"calculate":"datum.r*cos(datum.t*PI/180)","as":"x"},{"calculate":"datum.r*sin(datum.t*PI/180)","as":"y"}],
 "mark":{"type":"line","strokeWidth":2,"point":{"filled":false,"fill":"white","size":20,"strokeWidth":1}},
 "encoding":{
  "x":{"field":"x","type":"quantitative","scale":{"domain":[-6,6],"nice":false},"axis":null},
  "y":{"field":"y","type":"quantitative","scale":{"domain":[-6,6],"nice":false},
       "axis":{"values":[-6,-5,-4,-3,-2,-1,0,1,2,3,4,5,6],"tickCount":20,"labelExpr":"abs(datum.value)","labelOverlap":false,"offset":51,"title":"巷道塑性区半径/m","titleFont":"Noto Sans CJK SC","titleFontSize":17,"titleFontWeight":"normal","titleColor":"#222","titlePadding":8,"labelFontSize":18,"labelFont":"Liberation Serif","labelColor":"#222","domainColor":"#333","tickColor":"#333","tickSize":6,"grid":false,"labelPadding":3}},
  "color":{"field":"s","type":"nominal","scale":{"domain":["巷道","0.4","0.6","0.8","1.0"],"range":["#e8262c","#f26a2a","#ece42c","#6cb33f","#2b6cb6"]},
     "legend":{"orient":"none","legendX":393,"legendY":-45,"title":null,"labelFontSize":18,"labelFont":"Liberation Serif, Noto Sans CJK SC","labelColor":"#222","symbolType":"M-3,0H-1.25A0.25,0.25 0 1,1 -0.75,0A0.25,0.25 0 1,1 -1.25,0M-0.75,0H1","symbolSize":256,"symbolStrokeWidth":2,"symbolFillColor":"white","rowPadding":-1.5,"labelOffset":4,"padding":0}},
  "order":{"field":"t","type":"quantitative"}}}
]
},
{
"width":354,"height":354,
"title":{"text":"(b) η₁>1","orient":"bottom","frame":"group","anchor":"middle","fontSize":18,"font":"Liberation Serif","color":"#222","offset":13},
"layer":[
{"data":{"name":"ringsB"},"transform":[{"filter":"datum.k=='bg'"}],"mark":{"type":"point","shape":"circle","filled":true,"fill":"#e9f3f5","opacity":1,"strokeWidth":0},
 "encoding":{"x":{"field":"c","type":"quantitative","scale":{"domain":[-9,9],"nice":false},"axis":null},"y":{"field":"c","type":"quantitative","scale":{"domain":[-9,9],"nice":false}},
 "size":{"field":"r","type":"quantitative","scale":{"type":"pow","exponent":2,"domain":[0,9],"range":[0,125316]},"legend":null}}},
{"data":{"name":"ringsB"},"transform":[{"filter":"datum.k=='minor'"}],"mark":{"type":"point","shape":"circle","filled":false,"fill":null,"stroke":"#b8bcbe","opacity":1,"strokeWidth":0.8,"strokeDash":[3,2]},
 "encoding":{"x":{"field":"c","type":"quantitative","scale":{"domain":[-9,9],"nice":false},"axis":null},"y":{"field":"c","type":"quantitative","scale":{"domain":[-9,9],"nice":false}},
 "size":{"field":"r","type":"quantitative","scale":{"type":"pow","exponent":2,"domain":[0,9],"range":[0,125316]},"legend":null}}},
{"data":{"name":"ringsB"},"transform":[{"filter":"datum.k=='major'"}],"mark":{"type":"point","shape":"circle","filled":false,"fill":null,"stroke":"#8e9294","opacity":1,"strokeWidth":0.9},
 "encoding":{"x":{"field":"c","type":"quantitative","scale":{"domain":[-9,9],"nice":false},"axis":null},"y":{"field":"c","type":"quantitative","scale":{"domain":[-9,9],"nice":false}},
 "size":{"field":"r","type":"quantitative","scale":{"type":"pow","exponent":2,"domain":[0,9],"range":[0,125316]},"legend":null}}},
{"data":{"name":"spokeMinor"},"transform":[{"calculate":"9*cos(datum.a*PI/180)","as":"ex"},{"calculate":"9*sin(datum.a*PI/180)","as":"ey"}],
 "mark":{"type":"rule","stroke":"#b8bcbe","strokeWidth":0.8,"strokeDash":[3,2]},
 "encoding":{"x":{"field":"ex","type":"quantitative","scale":{"domain":[-9,9],"nice":false},"axis":null},"y":{"field":"ey","type":"quantitative","scale":{"domain":[-9,9],"nice":false}},"x2":{"datum":0},"y2":{"datum":0}}},
{"data":{"name":"spokeMain"},"transform":[{"calculate":"9*cos(datum.a*PI/180)","as":"ex"},{"calculate":"9*sin(datum.a*PI/180)","as":"ey"}],
 "mark":{"type":"rule","stroke":"#8e9294","strokeWidth":0.9},
 "encoding":{"x":{"field":"ex","type":"quantitative","scale":{"domain":[-9,9],"nice":false},"axis":null},"y":{"field":"ey","type":"quantitative","scale":{"domain":[-9,9],"nice":false}},"x2":{"datum":0},"y2":{"datum":0}}},
{"data":{"name":"ringsB"},"transform":[{"filter":"datum.k=='edge'"}],"mark":{"type":"point","shape":"circle","filled":false,"fill":null,"stroke":"#3a3a3a","opacity":1,"strokeWidth":1},
 "encoding":{"x":{"field":"c","type":"quantitative","scale":{"domain":[-9,9],"nice":false},"axis":null},"y":{"field":"c","type":"quantitative","scale":{"domain":[-9,9],"nice":false}},
 "size":{"field":"r","type":"quantitative","scale":{"type":"pow","exponent":2,"domain":[0,9],"range":[0,125316]},"legend":null}}},
{"data":{"name":"angLab"},"transform":[{"calculate":"9.9*cos(datum.a*PI/180)","as":"tx"},{"calculate":"9.9*sin(datum.a*PI/180)","as":"ty"}],
 "mark":{"type":"text","fontSize":18,"align":"center","baseline":"middle","color":"#222","font":"Liberation Serif"},
 "encoding":{"x":{"field":"tx","type":"quantitative","scale":{"domain":[-9,9],"nice":false},"axis":null},"y":{"field":"ty","type":"quantitative","scale":{"domain":[-9,9],"nice":false}},"text":{"field":"lab"}}},
{"data":{"name":"center"},"mark":{"type":"text","fontSize":18,"align":"center","baseline":"middle","color":"#222","font":"Noto Sans CJK SC"},
 "encoding":{"x":{"field":"c","type":"quantitative","scale":{"domain":[-9,9],"nice":false},"axis":null},"y":{"field":"c","type":"quantitative","scale":{"domain":[-9,9],"nice":false}},"text":{"field":"lab"}}},
{"data":{"name":"b"},"transform":[{"calculate":"datum.r*cos(datum.t*PI/180)","as":"x"},{"calculate":"datum.r*sin(datum.t*PI/180)","as":"y"}],
 "mark":{"type":"line","strokeWidth":2,"point":{"filled":false,"fill":"white","size":20,"strokeWidth":1}},
 "encoding":{
  "x":{"field":"x","type":"quantitative","scale":{"domain":[-9,9],"nice":false},"axis":null},
  "y":{"field":"y","type":"quantitative","scale":{"domain":[-9,9],"nice":false},
       "axis":{"values":[-9,-7,-5,-3,-1,1,3,5,7,9],"tickCount":20,"labelExpr":"abs(datum.value)","labelOverlap":false,"offset":48,"title":"巷道塑性区半径/m","titleFont":"Noto Sans CJK SC","titleFontSize":17,"titleFontWeight":"normal","titleColor":"#222","titlePadding":8,"labelFontSize":18,"labelFont":"Liberation Serif","labelColor":"#222","domainColor":"#333","tickColor":"#333","tickSize":6,"grid":false,"labelPadding":3}},
  "color":{"field":"s","type":"nominal","scale":{"domain":["巷道","1.2","1.4","1.6"],"range":["#e8262c","#f26a2a","#ece42c","#6cb33f"]},
     "legend":{"orient":"none","legendX":393,"legendY":-43,"title":null,"labelFontSize":18,"labelFont":"Liberation Serif, Noto Sans CJK SC","labelColor":"#222","symbolType":"M-3,0H-1.25A0.25,0.25 0 1,1 -0.75,0A0.25,0.25 0 1,1 -1.25,0M-0.75,0H1","symbolSize":256,"symbolStrokeWidth":2,"symbolFillColor":"white","rowPadding":-1.5,"labelOffset":4,"padding":0}},
  "order":{"field":"t","type":"quantitative"}}}
]
}
]
}
